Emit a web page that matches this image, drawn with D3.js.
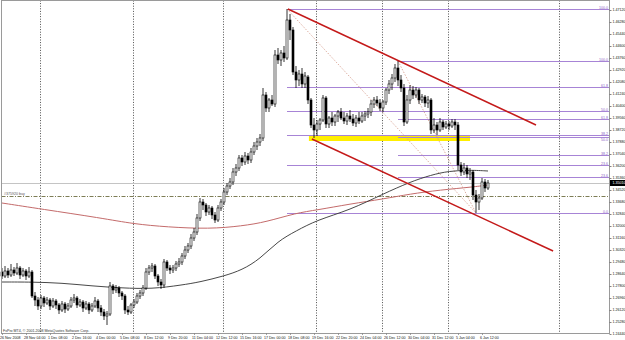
<!DOCTYPE html>
<html><head><meta charset="utf-8">
<script src="https://d3js.org/d3.v7.min.js"></script>
<style>html,body{margin:0;padding:0;background:#fff;overflow:hidden}svg{display:block}</style>
</head><body><svg id="c" width="625" height="340"></svg>
<script>
// ---- data (EURUSD H4, 26 Nov 2008 - 6 Jan 2009) ----
const opens=[1.2878,1.2850,1.2885,1.2857,1.2892,1.2871,1.2906,1.2857,1.2885,1.2850,
1.2878,1.2710,1.2682,1.2640,1.2696,1.2661,1.2682,1.2640,1.2675,1.2647,
1.2612,1.2654,1.2619,1.2640,1.2682,1.2696,1.2647,1.2668,1.2626,1.2654,
1.2612,1.2640,1.2675,1.2626,1.2598,1.2570,1.2584,1.2780,1.2752,1.2766,
1.2731,1.2710,1.2612,1.2598,1.2647,1.2668,1.2710,1.2731,1.2766,1.2878,
1.2906,1.2920,1.2850,1.2808,1.2787,1.2948,1.2906,1.2892,1.2906,1.2934,
1.2948,1.2990,1.3032,1.3060,1.3116,1.3158,1.3256,1.3368,1.3347,1.3298,
1.3326,1.3277,1.3242,1.3326,1.3368,1.3438,1.3480,1.3508,1.3578,1.3606,
1.3676,1.3648,1.3690,1.3662,1.3718,1.3760,1.3788,1.3816,1.4117,1.4026,
1.4082,1.4054,1.4397,1.4362,1.4411,1.4376,1.4642,1.4572,1.4278,1.4222,
1.4264,1.4194,1.4243,1.4082,1.3907,1.3872,1.3914,1.3942,1.4096,1.3914,
1.3956,1.3928,1.3970,1.3998,1.3956,1.3935,1.3970,1.3949,1.3921,1.3956,
1.3935,1.3970,1.3984,1.3998,1.4054,1.4082,1.4061,1.4026,1.4068,1.4152,
1.4194,1.4236,1.4306,1.4222,1.4166,1.3928,1.4082,1.4152,1.4117,1.4152,
1.4082,1.4103,1.4061,1.4082,1.3872,1.3907,1.3872,1.3928,1.3893,1.3914,
1.3900,1.3928,1.3907,1.3627,1.3578,1.3606,1.3564,1.3578,1.3417,1.3368,
1.3396,1.3508,1.3466];
const highs=[1.2906,1.2920,1.2906,1.2934,1.2913,1.2941,1.2920,1.2906,1.2899,1.2913,
1.2892,1.2738,1.2703,1.2717,1.2710,1.2703,1.2696,1.2696,1.2689,1.2661,
1.2675,1.2668,1.2661,1.2703,1.2724,1.2710,1.2689,1.2682,1.2675,1.2668,
1.2661,1.2703,1.2689,1.2647,1.2619,1.2605,1.2808,1.2794,1.2787,1.2780,
1.2745,1.2724,1.2640,1.2661,1.2689,1.2731,1.2752,1.2787,1.2906,1.2927,
1.2941,1.2934,1.2864,1.2829,1.2969,1.2962,1.2927,1.2927,1.2955,1.2976,
1.3011,1.3060,1.3081,1.3144,1.3186,1.3284,1.3396,1.3389,1.3361,1.3347,
1.3340,1.3298,1.3347,1.3389,1.3466,1.3501,1.3536,1.3606,1.3634,1.3697,
1.3697,1.3718,1.3711,1.3746,1.3788,1.3816,1.3844,1.4166,1.4138,1.4096,
1.4117,1.4432,1.4446,1.4432,1.4460,1.4719,1.4684,1.4593,1.4320,1.4292,
1.4306,1.4278,1.4257,1.4096,1.3956,1.3942,1.3956,1.4117,1.4110,1.3970,
1.3998,1.3984,1.4012,1.4026,1.3998,1.3991,1.4012,1.3984,1.3977,1.3998,
1.3998,1.4005,1.4026,1.4082,1.4103,1.4110,1.4089,1.4082,1.4166,1.4222,
1.4264,1.4334,1.4355,1.4257,1.4194,1.4117,1.4187,1.4180,1.4173,1.4166,
1.4124,1.4117,1.4110,1.4096,1.3956,1.3928,1.3956,1.3942,1.3935,1.3935,
1.3949,1.3949,1.3928,1.3648,1.3641,1.3627,1.3606,1.3592,1.3452,1.3424,
1.3536,1.3529,1.3522];
const lows=[1.2829,1.2836,1.2836,1.2843,1.2850,1.2857,1.2829,1.2843,1.2822,1.2836,
1.2696,1.2640,1.2612,1.2619,1.2633,1.2647,1.2612,1.2626,1.2619,1.2584,
1.2598,1.2591,1.2605,1.2626,1.2661,1.2626,1.2633,1.2598,1.2612,1.2584,
1.2598,1.2626,1.2598,1.2570,1.2542,1.2507,1.2570,1.2724,1.2731,1.2703,
1.2682,1.2584,1.2577,1.2584,1.2626,1.2654,1.2689,1.2710,1.2752,1.2857,
1.2878,1.2829,1.2780,1.2759,1.2766,1.2885,1.2864,1.2871,1.2885,1.2913,
1.2927,1.2969,1.3011,1.3039,1.3095,1.3137,1.3235,1.3312,1.3270,1.3277,
1.3249,1.3221,1.3228,1.3305,1.3347,1.3417,1.3459,1.3487,1.3550,1.3585,
1.3620,1.3627,1.3634,1.3641,1.3697,1.3732,1.3760,1.3795,1.3998,1.3998,
1.4040,1.4033,1.4334,1.4320,1.4348,1.4362,1.4502,1.4257,1.4166,1.4180,
1.4166,1.4166,1.4054,1.3886,1.3816,1.3830,1.3872,1.3928,1.3886,1.3886,
1.3900,1.3900,1.3928,1.3942,1.3914,1.3907,1.3928,1.3900,1.3893,1.3914,
1.3921,1.3935,1.3956,1.3970,1.4026,1.4040,1.4005,1.3998,1.4047,1.4124,
1.4152,1.4208,1.4180,1.4138,1.3900,1.3914,1.4054,1.4089,1.4096,1.4054,
1.4061,1.4033,1.4026,1.3844,1.3851,1.3837,1.3858,1.3872,1.3879,1.3872,
1.3886,1.3872,1.3592,1.3550,1.3557,1.3536,1.3522,1.3382,1.3291,1.3312,
1.3382,1.3438,1.3452];
const closes=[1.2850,1.2885,1.2857,1.2892,1.2871,1.2906,1.2857,1.2885,1.2850,1.2878,
1.2710,1.2682,1.2640,1.2696,1.2661,1.2682,1.2640,1.2675,1.2647,1.2612,
1.2654,1.2619,1.2640,1.2682,1.2696,1.2647,1.2668,1.2626,1.2654,1.2612,
1.2640,1.2675,1.2626,1.2598,1.2570,1.2584,1.2780,1.2752,1.2766,1.2731,
1.2710,1.2612,1.2598,1.2647,1.2668,1.2710,1.2731,1.2766,1.2878,1.2906,
1.2920,1.2850,1.2808,1.2787,1.2948,1.2906,1.2892,1.2906,1.2934,1.2948,
1.2990,1.3032,1.3060,1.3116,1.3158,1.3256,1.3368,1.3347,1.3298,1.3326,
1.3277,1.3242,1.3326,1.3368,1.3438,1.3480,1.3508,1.3578,1.3606,1.3676,
1.3648,1.3690,1.3662,1.3718,1.3760,1.3788,1.3816,1.4117,1.4026,1.4082,
1.4054,1.4397,1.4362,1.4411,1.4376,1.4642,1.4572,1.4278,1.4222,1.4264,
1.4194,1.4250,1.4082,1.3907,1.3872,1.3914,1.3942,1.4096,1.3914,1.3956,
1.3928,1.3970,1.3998,1.3956,1.3935,1.3970,1.3949,1.3921,1.3956,1.3935,
1.3970,1.3984,1.3998,1.4054,1.4082,1.4061,1.4026,1.4068,1.4152,1.4194,
1.4236,1.4306,1.4222,1.4166,1.3928,1.4082,1.4152,1.4117,1.4152,1.4082,
1.4103,1.4061,1.4082,1.3872,1.3907,1.3872,1.3928,1.3893,1.3914,1.3900,
1.3928,1.3907,1.3627,1.3578,1.3606,1.3564,1.3578,1.3417,1.3368,1.3396,
1.3508,1.3466,1.3501];

const dateLabels=["26 Nov 2008","28 Nov 04:00","1 Dec 08:00","2 Dec 16:00","4 Dec 00:00","5 Dec 08:00",
"8 Dec 12:00","9 Dec 20:00","11 Dec 04:00","12 Dec 12:00","15 Dec 16:00","17 Dec 00:00","18 Dec 08:00",
"19 Dec 16:00","22 Dec 20:00","24 Dec 04:00","26 Dec 12:00","30 Dec 04:00","31 Dec 12:00","5 Jan 04:00","6 Jan 12:00"];
const dateLabelBars=[0,8,16,24,32,40,48,56,64,72,80,88,96,104,112,120,128,136,144,152,160];
const weekSeparatorBars=[13,44,74,105,127,149,186];
const priceTicks=["1.47120","1.46280","1.45440","1.44600","1.43760","1.42920","1.42080","1.41240",
"1.40400","1.39560","1.38720","1.37880","1.37040","1.36200","1.35360","1.34520","1.33680",
"1.32840","1.32000","1.31160","1.30320","1.29480","1.28640","1.27800","1.26960","1.26120","1.25280","1.24440"];

const maFastBars=[0,10,20,30,40,50,60,66,74,80,86,92,98,105,116,127,136,143,149,156,162];
const maFastValues=[1.2808,1.2808,1.2801,1.2780,1.2766,1.2759,1.2787,1.2808,1.2850,1.2892,1.2969,1.3095,1.3165,1.3242,1.3312,1.3424,1.3508,1.3557,1.3585,1.3592,1.3585];
const maSlowBars=[0,13,33,44,55,69,80,88,98,105,116,127,136,146,157,162];
const maSlowValues=[1.3361,1.3319,1.3256,1.3214,1.3193,1.3179,1.3200,1.3228,1.3291,1.3312,1.3354,1.3389,1.3424,1.3452,1.3473,1.3487];

const fibRatios=[0,23.6,38.2,50.0,61.8,100.0];
const fibStartBars=[95,132];
const fibHighs=[1.4719,1.4355];
const fibLowBar=158, fibLow=1.3291;

const channelUpperBars=[95.3,178], channelUpperPrices=[1.4719,1.3907];
const channelLowerBars=[103.3,183.7], channelLowerPrices=[1.3809,1.3025];
const zoneBars=[102.3,156], zonePrices=[1.3837,1.3795];
const bidPrice=1.3501, bidLabel="1.35010";
const orderPrice=1.3410, orderLabel="#375920 buy";
const copyright="FxPro MT4, \u00a9 2001-2008 MetaQuotes Software Corp.";

// ---- layout ----
const svg=d3.select("#c");
const plotL=1.5, plotR=609.5, plotT=0.5, plotB=333.5;
const x=d3.scaleLinear().domain([0,186]).range([2,560]);
const y=d3.scaleLinear().domain([1.2451,1.4782]).range([333,0]);
const FONT="Liberation Sans, Arial, sans-serif";

const g=svg.append("g");
// week separators
g.selectAll("line.sep").data(weekSeparatorBars).join("line")
 .attr("x1",d=>Math.round(x(d))-0.5).attr("x2",d=>Math.round(x(d))-0.5)
 .attr("y1",plotT).attr("y2",plotB).attr("stroke","#222").attr("stroke-width",0.8)
 .attr("stroke-dasharray","1,1.6");

// yellow zone
g.append("rect").attr("x",x(zoneBars[0])).attr("width",x(zoneBars[1])-x(zoneBars[0]))
 .attr("y",y(zonePrices[0])).attr("height",y(zonePrices[1])-y(zonePrices[0])).attr("fill","#ffee00");

// fib levels
const placed=[];
fibStartBars.forEach((sb,k)=>{
  const hi=fibHighs[k], lo=fibLow;
  fibRatios.forEach(r=>{
    const p=lo+(hi-lo)*r/100, yy=Math.round(y(p))+0.5;
    g.append("line").attr("x1",x(sb)).attr("x2",plotR).attr("y1",yy).attr("y2",yy)
     .attr("stroke","#a784d6").attr("stroke-width",1);
    // if another label is already close, put this one under its line
    let ty=yy-0.7;
    if(placed.some(v=>Math.abs(v-ty)<4 && Math.abs(v-ty)>0.1)) ty=yy+3.6;
    if(placed.some(v=>Math.abs(v-ty)<=0.1)) ty=null;
    if(ty!==null){
      placed.push(ty);
      g.append("text").attr("x",plotR-1.5).attr("y",ty).attr("text-anchor","end")
       .attr("font-family",FONT).attr("font-size",3.6).attr("fill","#8a64c4").text(r.toFixed(1));
    }
  });
  g.append("line").attr("x1",x(sb)).attr("y1",y(hi)).attr("x2",x(fibLowBar)).attr("y2",y(lo))
   .attr("stroke","#d49a8a").attr("stroke-width",0.8).attr("stroke-dasharray","1.5,1.5");
});

// bid line
g.append("line").attr("x1",plotL).attr("x2",plotR).attr("y1",Math.round(y(bidPrice))+0.5).attr("y2",Math.round(y(bidPrice))+0.5)
 .attr("stroke","#c4c4c4").attr("stroke-width",1);
// order line
g.append("line").attr("x1",plotL).attr("x2",plotR).attr("y1",Math.round(y(orderPrice))+0.5).attr("y2",Math.round(y(orderPrice))+0.5)
 .attr("stroke","#7d7d55").attr("stroke-width",1).attr("stroke-dasharray","4,1.5,1,1.5");
g.append("text").attr("x",4).attr("y",y(orderPrice)-1.5).attr("font-family",FONT).attr("font-size",3.6)
 .attr("fill","#555").text(orderLabel);

// moving averages
const lineGen=d3.line().curve(d3.curveBasis);
g.append("path").attr("d",lineGen(maSlowBars.map((b,i)=>[x(b),y(maSlowValues[i])])))
 .attr("fill","none").attr("stroke","#c46b6b").attr("stroke-width",1);
g.append("path").attr("d",lineGen(maFastBars.map((b,i)=>[x(b),y(maFastValues[i])])))
 .attr("fill","none").attr("stroke","#333").attr("stroke-width",0.9);

// candles
const idx=d3.range(opens.length);
g.selectAll("line.wick").data(idx).join("line")
 .attr("x1",i=>x(i)).attr("x2",i=>x(i)).attr("y1",i=>y(highs[i])).attr("y2",i=>y(lows[i]))
 .attr("stroke","#000").attr("stroke-width",0.8);
g.selectAll("rect.body").data(idx).join("rect")
 .attr("x",i=>x(i)-1).attr("width",2)
 .attr("y",i=>y(Math.max(opens[i],closes[i])))
 .attr("height",i=>Math.max(0.8,Math.abs(y(opens[i])-y(closes[i]))))
 .attr("fill",i=>closes[i]>=opens[i]?"#fff":"#000")
 .attr("stroke","#000").attr("stroke-width",0.6);

// channel lines
[[channelUpperBars,channelUpperPrices],[channelLowerBars,channelLowerPrices]].forEach(([b,p])=>{
  g.append("line").attr("x1",x(b[0])).attr("y1",y(p[0])).attr("x2",x(b[1])).attr("y2",y(p[1]))
   .attr("stroke","#c41a1a").attr("stroke-width",1.5);
});

// frame
svg.append("rect").attr("x",plotL).attr("y",plotT).attr("width",plotR-plotL).attr("height",plotB-plotT)
 .attr("fill","none").attr("stroke","#9a9a9a").attr("stroke-width",1);

// price axis
const ax=svg.append("g");
priceTicks.forEach(t=>{
  const yy=y(+t);
  ax.append("line").attr("x1",plotR).attr("x2",plotR+2).attr("y1",Math.round(yy)+0.5).attr("y2",Math.round(yy)+0.5)
   .attr("stroke","#666").attr("stroke-width",0.8);
  ax.append("text").attr("x",612.5).attr("y",yy+1.2).attr("font-family",FONT).attr("font-size",3.6)
   .attr("fill","#111").text(t);
});
// bid label box
const by=y(bidPrice);
ax.append("rect").attr("x",610).attr("y",by-3).attr("width",15).attr("height",6).attr("fill","#000");
ax.append("text").attr("x",612.5).attr("y",by+1.3).attr("font-family",FONT).attr("font-size",3.6)
 .attr("fill","#fff").text(bidLabel);

// time axis labels
dateLabelBars.forEach((b,i)=>{
  svg.append("text").attr("x",x(b)-2).attr("y",338.5).attr("font-family",FONT).attr("font-size",3.6)
   .attr("fill","#111").text(dateLabels[i]);
  svg.append("line").attr("x1",Math.round(x(b))+0.5).attr("x2",Math.round(x(b))+0.5).attr("y1",plotB).attr("y2",plotB+1.5)
   .attr("stroke","#666").attr("stroke-width",0.6);
});
svg.append("text").attr("x",3).attr("y",331.5).attr("font-family",FONT).attr("font-size",3.6)
 .attr("fill","#333").text(copyright);
</script>
</body></html>
